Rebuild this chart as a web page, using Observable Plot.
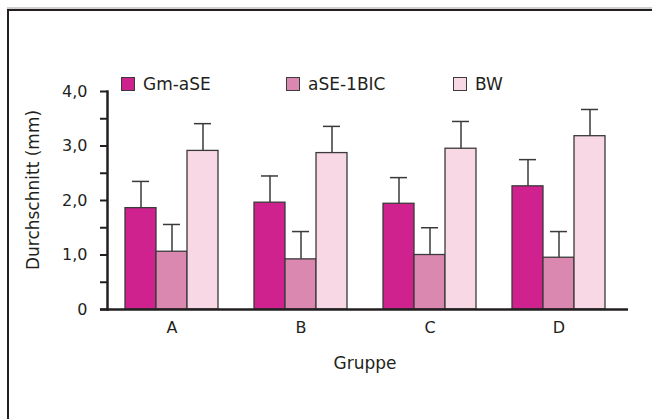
<!DOCTYPE html>
<html>
<head>
<meta charset="utf-8">
<script src="https://cdn.jsdelivr.net/npm/d3@7"></script>
<script src="https://cdn.jsdelivr.net/npm/@observablehq/plot@0.6"></script>
<style>
  html, body { margin: 0; padding: 0; background: #fff; }
  #wrap { position: relative; width: 652px; height: 419px; overflow: hidden; font-family: "DejaVu Sans", sans-serif; color: #231f20; }
  #frame { position: absolute; left: 7px; top: 9px; width: 700px; height: 500px; border-left: 2px solid #231f20; border-top: 2px solid #231f20; box-shadow: 0 -2px 0 0 #d0d0d0; }
  #chart { position: absolute; left: 0; top: 0; }
  .leg { position: absolute; top: 76px; display: flex; align-items: center; font-size: 17px; line-height: 16px; }
  .sw { width: 14px; height: 14px; border: 1.3px solid #3a3a3a; box-sizing: border-box; margin-right: 8px; }
  #ylab { position: absolute; left: 33px; top: 190px; transform: translate(-50%, -50%) rotate(-90deg); font-size: 17px; white-space: nowrap; }
  #xlab { position: absolute; left: 365px; top: 363px; transform: translate(-50%, -50%); font-size: 17px; }
</style>
</head>
<body>
<div id="wrap">
  <div id="frame"></div>
  <div id="chart"></div>
  <div id="legend"></div>
  <div id="ylab"></div>
  <div id="xlab"></div>
</div>
<script>
// ---- data ----
const groups = ["A", "B", "C", "D"];
const series = ["Gm-aSE", "aSE-1BIC", "BW"];
const colors = ["#d0228e", "#db88b1", "#f9d8e5"];
const gmMean  = [1.86, 1.96, 1.94, 2.26];
const gmSD    = [0.49, 0.49, 0.48, 0.49];
const aseMean = [1.06, 0.92, 1.00, 0.95];
const aseSD   = [0.50, 0.51, 0.50, 0.48];
const bwMean  = [2.91, 2.87, 2.95, 3.18];
const bwSD    = [0.50, 0.49, 0.50, 0.49];
const yTicks      = [0, 0.5, 1, 1.5, 2, 2.5, 3, 3.5, 4];
const yTickLabels = ["0", "", "1,0", "", "2,0", "", "3,0", "", "4,0"];
const yLabel = "Durchschnitt (mm)";
const xLabel = "Gruppe";

const means = [gmMean, aseMean, bwMean];
const sds = [gmSD, aseSD, bwSD];
const rowsBySeries = series.map((s, k) =>
  groups.map((g, i) => ({group: g, series: s, mean: means[k][i], sd: sds[k][i]}))
);

const ink = "#231f20";
const edge = "#3a3a3a";
const barW = 31;
const bandW = 129;
const inset = (bandW - barW) / 2;
const capW = 17;
const capInset = (bandW - capW) / 2;

const marks = [];
rowsBySeries.forEach((rows, k) => {
  const dx = (k - 1) * barW;
  marks.push(Plot.barY(rows, {x: "group", y: "mean", fill: colors[k], stroke: edge, strokeWidth: 1.3,
    insetLeft: inset, insetRight: inset, dx}));
  marks.push(Plot.ruleX(rows, {x: "group", y1: "mean", y2: d => d.mean + d.sd, stroke: edge, strokeWidth: 1.5, dx}));
  marks.push(Plot.tickY(rows, {x: "group", y: d => d.mean + d.sd, stroke: edge, strokeWidth: 1.5,
    insetLeft: capInset, insetRight: capInset, dx}));
});

const labelMap = new Map(yTicks.map((t, i) => [t, yTickLabels[i]]));

const chart = Plot.plot({
  width: 652,
  height: 419,
  marginLeft: 107,
  marginRight: 29,
  marginTop: 91,
  marginBottom: 110,
  style: {fontFamily: "DejaVu Sans, sans-serif", fontSize: "16px", color: ink, background: "transparent"},
  x: {domain: groups, padding: 0},
  y: {domain: [0, 4]},
  marks: [
    ...marks,
    Plot.axisY(yTicks, {tickSize: 7, tickPadding: 13, strokeWidth: 2, stroke: ink, fill: ink,
      tickFormat: d => labelMap.get(d), label: null, fontSize: 16}),
    Plot.axisX({tickSize: 0, tickPadding: 12, label: null, fill: ink, fontSize: 16}),
    Plot.frame({anchor: "left", stroke: ink, strokeWidth: 2.5}),
    Plot.ruleY([0], {stroke: ink, strokeWidth: 2.5, insetLeft: -7, insetRight: -5})
  ]
});
document.getElementById("chart").appendChild(chart);

// legend
const legendX = [121, 286, 453];
const legend = document.getElementById("legend");
series.forEach((s, k) => {
  const item = document.createElement("div");
  item.className = "leg";
  item.style.left = legendX[k] + "px";
  const sw = document.createElement("div");
  sw.className = "sw";
  sw.style.background = colors[k];
  const t = document.createElement("span");
  t.textContent = s;
  item.appendChild(sw);
  item.appendChild(t);
  legend.appendChild(item);
});
document.getElementById("ylab").textContent = yLabel;
document.getElementById("xlab").textContent = xLabel;
</script>
</body>
</html>
